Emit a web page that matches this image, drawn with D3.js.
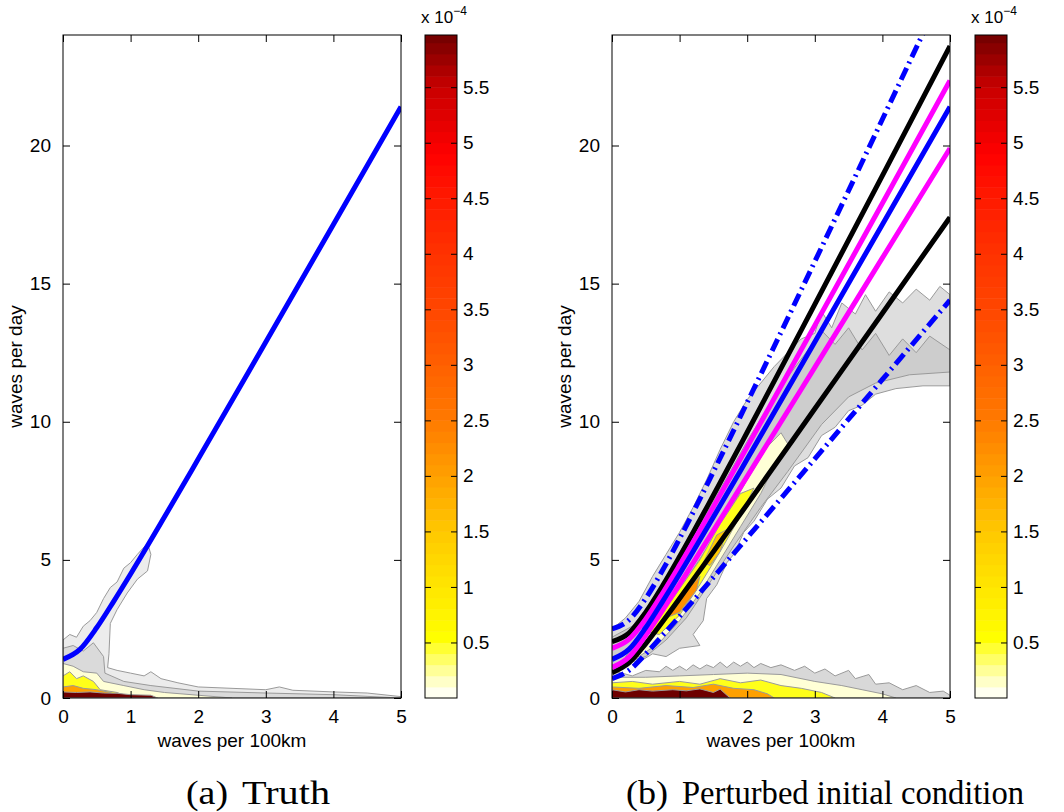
<!DOCTYPE html>
<html>
<head>
<meta charset="utf-8">
<script src="https://cdn.jsdelivr.net/npm/d3@7"></script>
<style>
  body { margin: 0; background: #fff; }
  svg text { font-family: "Liberation Sans", Arial, sans-serif; fill: #000; }
  .caption { font-family: "Liberation Serif", "DejaVu Serif", serif; }
</style>
</head>
<body>
<svg id="chart" width="1064" height="812"></svg>
<script>
// x positions shared by all curves (waves per 100km)
var kx = [0, 0.25, 0.5, 0.75, 1, 1.5, 2, 3, 4, 5];

// curves (waves per day)
var truthLine   = [1.40, 1.76, 2.55, 3.50, 4.49, 6.55, 8.65, 12.89, 17.14, 21.40];
var blackUpper  = [2.04, 2.35, 3.11, 4.07, 5.12, 7.34, 9.62, 14.25, 18.91, 23.60];
var magUpper    = [1.80, 2.12, 2.86, 3.80, 4.81, 6.92, 9.09, 13.49, 17.91, 22.35];
var magLower    = [1.10, 1.48, 2.27, 3.18, 4.12, 6.06, 8.02, 11.97, 15.93, 19.90];
var blackLower  = [0.92, 1.27, 1.97, 2.77, 3.60, 5.30, 7.01, 10.47, 13.93, 17.40];
var dashLower   = [0.70, 1.00, 1.60, 2.27, 2.96, 4.37, 5.80, 8.66, 11.53, 14.40];
var dashUpperX  = [0, 0.25, 0.5, 0.75, 1, 1.5, 2, 3, 4, 4.6];
var dashUpper   = [2.50, 2.82, 3.61, 4.63, 5.77, 8.19, 10.70, 15.80, 20.95, 24.05];

// colorbar ticks (x 10^-4) and axis ticks
var cbTicks = [0.5, 1, 1.5, 2, 2.5, 3, 3.5, 4, 4.5, 5, 5.5];
var xTicks = [0, 1, 2, 3, 4, 5];
var yTicks = [0, 5, 10, 15, 20];

// contour regions: [x, y] outlines
var truthCloud = [[0,0],[0,2.1],[0.1,2.3],[0.2,2.2],[0.3,2.6],[0.4,2.8],[0.5,3.1],[0.6,3.6],[0.7,4.0],[0.8,4.2],[0.9,4.7],[1.0,4.9],[1.1,5.2],[1.25,5.6],[1.3,5.2],[1.25,4.6],[1.1,4.3],[0.95,3.8],[0.8,3.2],[0.7,2.7],[0.68,1.6],[0.66,1.1],[0.8,1.0],[1.0,0.9],[1.2,0.8],[1.3,0.95],[1.45,0.7],[1.7,0.55],[2.0,0.4],[2.5,0.35],[3.0,0.3],[3.2,0.4],[3.4,0.28],[4.0,0.22],[4.5,0.18],[5.0,0.05],[5.0,0]];
var truthInner = [[0,0],[0,1.8],[0.15,1.9],[0.3,1.7],[0.45,2.0],[0.6,1.5],[0.62,0.9],[0.9,0.6],[1.3,0.45],[2.0,0.25],[3.0,0.18],[4.0,0.12],[5.0,0]];
var truthPale = [[0,0],[0,1.25],[0.15,1.15],[0.3,0.95],[0.5,0.9],[0.6,0.6],[0.9,0.45],[1.2,0.3],[1.5,0.2],[2.0,0.1],[2.5,0]];
var truthYellow = [[0,0],[0,0.8],[0.1,0.95],[0.2,0.7],[0.3,0.8],[0.45,0.6],[0.55,0.3],[0.8,0.2],[1.0,0]];
var truthOrange = [[0,0],[0,0.4],[0.15,0.45],[0.3,0.35],[0.5,0.3],[0.7,0.2],[0.9,0]];
var truthRed = [[0,0],[0,0.22],[0.2,0.2],[0.4,0.22],[0.6,0.18],[0.8,0.17],[1.0,0.12],[1.3,0.1],[1.4,0]];

var pertCloud = [[0,1.0],[0,2.5],[0.2,2.9],[0.4,3.5],[0.6,4.4],[0.8,5.2],[1.0,6.0],[1.2,6.9],[1.4,7.9],[1.6,9.0],[1.8,10.0],[2.0,10.8],[2.2,11.4],[2.4,12.0],[2.6,12.5],[2.8,13.0],[3.0,13.2],[3.1,14.0],[3.25,13.4],[3.4,14.3],[3.6,13.9],[3.75,14.6],[3.9,14.0],[4.1,14.7],[4.3,14.3],[4.5,14.8],[4.7,14.4],[4.85,14.9],[5.0,14.6],[5.0,11.3],[4.6,11.3],[4.2,11.2],[3.9,11.0],[3.7,10.6],[3.5,10.4],[3.3,9.8],[3.1,9.5],[2.9,8.7],[2.7,8.4],[2.5,7.6],[2.3,7.2],[2.1,6.4],[1.95,6.0],[1.8,5.2],[1.7,4.9],[1.55,4.1],[1.4,3.6],[1.35,2.8],[1.2,2.3],[1.3,1.9],[1.0,1.8],[0.8,1.5],[0.6,1.6],[0.4,1.3],[0.2,1.4]];
var pertMid = [[0,1.2],[0,2.2],[0.3,2.6],[0.6,3.5],[1.0,5.0],[1.5,7.1],[2.0,9.3],[2.5,11.3],[2.9,12.6],[3.1,13.3],[3.3,12.8],[3.5,13.4],[3.7,12.6],[3.9,13.2],[4.1,12.4],[4.3,13.0],[4.5,12.5],[4.7,13.1],[5.0,12.6],[5.0,11.8],[4.4,11.7],[3.9,11.4],[3.5,10.9],[3.1,9.9],[2.6,8.2],[2.2,6.9],[1.8,5.5],[1.4,4.0],[1.1,2.9],[0.8,2.1],[0.5,1.5],[0.2,1.3]];
var pertPale = [[0.2,1.5],[0.5,2.3],[0.8,3.2],[1.1,4.3],[1.4,5.4],[1.7,6.6],[2.0,7.9],[2.3,9.1],[2.5,9.6],[2.6,9.2],[2.4,8.4],[2.2,7.4],[1.9,6.2],[1.6,5.0],[1.3,3.8],[1.0,2.8],[0.7,2.0],[0.4,1.5]];
var pertYellow = [[0.5,2.4],[0.9,3.6],[1.3,5.0],[1.6,6.3],[1.9,7.4],[2.1,7.6],[1.9,6.6],[1.6,5.3],[1.3,4.1],[1.0,3.0],[0.7,2.3]];
var pertGold = [[1.35,4.9],[1.55,5.9],[1.7,6.1],[1.6,5.3],[1.45,4.8]];
var pertOrange = [[0.8,2.9],[1.1,3.9],[1.3,4.4],[1.25,3.9],[1.0,3.1]];
var pertLow = [[0,0],[0,1.0],[0.3,0.8],[0.5,1.0],[0.7,0.95],[0.8,1.15],[0.9,1.0],[1.0,1.15],[1.1,1.0],[1.2,1.2],[1.3,1.05],[1.4,1.2],[1.5,1.1],[1.6,1.3],[1.7,1.1],[1.8,1.3],[1.9,1.15],[2.0,1.3],[2.1,1.1],[2.2,1.25],[2.35,1.1],[2.5,1.2],[2.7,1.0],[2.85,1.15],[3.0,0.9],[3.15,1.05],[3.3,0.8],[3.5,1.0],[3.6,0.7],[3.8,0.85],[3.9,0.5],[4.1,0.55],[4.3,0.3],[4.5,0.45],[4.7,0.2],[4.9,0.25],[5.0,0.1],[5,0]];
var pertLowPale = [[0,0],[0,0.75],[0.5,0.75],[1.0,0.8],[1.5,0.85],[2.0,0.9],[2.5,0.85],[3.0,0.6],[3.4,0.45],[3.7,0.3],[4.0,0.15],[4.2,0]];
var pertLowYellow = [[0,0],[0,0.55],[0.3,0.6],[0.6,0.5],[1.0,0.6],[1.3,0.5],[1.6,0.7],[1.9,0.55],[2.2,0.65],[2.5,0.45],[2.8,0.35],[3.1,0.2],[3.3,0]];
var pertLowOrange = [[0,0],[0,0.4],[0.4,0.35],[0.8,0.45],[1.2,0.38],[1.5,0.5],[1.8,0.35],[2.1,0.3],[2.3,0.15],[2.4,0]];
var pertLowRed = [[0,0],[0,0.3],[0.2,0.22],[0.4,0.3],[0.6,0.25],[0.9,0.3],[1.1,0.26],[1.3,0.33],[1.5,0.2],[1.6,0.32],[1.7,0.1],[1.75,0]];

// reversed "hot" style colour map, domain in 10^-4
var hot = d3.scaleLinear()
  .domain([0, 0.1, 0.3, 0.55, 1.0, 1.5, 2.0, 2.5, 3.0, 3.5, 4.0, 4.5, 4.9, 5.5, 6.0])
  .range(["#ffffff", "#ffffe0", "#ffff80", "#ffff00", "#ffe600", "#ffc800", "#ffa000",
          "#ff7a00", "#ff6000", "#ff4600", "#ff3200", "#ff1a00", "#ff0000", "#c80000", "#6e0000"])
  .clamp(true);

var svg = d3.select("#chart");
var W = 338, H = 663;
var x = d3.scaleLinear().domain([0, 5]).range([0, W]);
var y = d3.scaleLinear().domain([0, 24]).range([H, 0]);
var line = d3.line().x(function(d){ return x(d[0]); }).y(function(d){ return y(d[1]); }).curve(d3.curveMonotoneX);
var poly = d3.line().x(function(d){ return x(d[0]); }).y(function(d){ return y(d[1]); }).curve(d3.curveLinearClosed);

function zip(xs, ys){ return xs.map(function(v, i){ return [v, ys[i]]; }); }

function drawPanel(left, id, regions, curves, caption){
  var g = svg.append("g").attr("transform", "translate(" + left + ",35)");
  g.append("clipPath").attr("id", id).append("rect").attr("width", W).attr("height", H);
  var plot = g.append("g").attr("clip-path", "url(#" + id + ")");

  regions.forEach(function(r){
    plot.append("path").attr("d", poly(r.pts))
      .attr("fill", r.fill || hot(r.level))
      .attr("stroke", "#9a9a9a").attr("stroke-width", 1);
  });

  curves.forEach(function(c){
    plot.append("path").attr("d", line(c.pts))
      .attr("fill", "none").attr("stroke", c.color).attr("stroke-width", 5)
      .attr("stroke-dasharray", c.dash || null);
  });

  // box with inward ticks on all four sides
  g.append("rect").attr("width", W).attr("height", H).attr("fill", "none").attr("stroke", "#000");
  g.append("g").attr("transform", "translate(0," + H + ")")
    .call(d3.axisBottom(x).tickValues(xTicks).tickFormat(d3.format("d")).tickSizeInner(-7).tickSizeOuter(0).tickPadding(12))
    .call(styleAxis);
  g.append("g").call(d3.axisTop(x).tickValues(xTicks).tickSizeInner(-7).tickSizeOuter(0).tickFormat(""))
    .call(styleAxis);
  g.append("g").call(d3.axisLeft(y).tickValues(yTicks).tickSizeInner(-7).tickSizeOuter(0).tickPadding(12))
    .call(styleAxis);
  g.append("g").attr("transform", "translate(" + W + ",0)")
    .call(d3.axisRight(y).tickValues(yTicks).tickSizeInner(-7).tickSizeOuter(0).tickFormat(""))
    .call(styleAxis);

  g.append("text").attr("x", W / 2).attr("y", H + 49).attr("text-anchor", "middle")
    .style("font-size", "19px").text("waves per 100km");
  g.append("text").attr("transform", "translate(-41," + (H / 2) + ") rotate(-90)")
    .attr("text-anchor", "middle").style("font-size", "19px").text("waves per day");

  // caption pieces: [text, left x, width]
  caption.forEach(function(c){
    svg.append("text").attr("class", "caption").attr("x", c[1]).attr("y", 804)
      .attr("textLength", c[2]).attr("lengthAdjust", "spacingAndGlyphs")
      .style("font-size", "33px").text(c[0]);
  });
}

function styleAxis(a){
  a.select(".domain").remove();
  a.selectAll(".tick line").attr("stroke", "#000");
  a.selectAll("text").style("font-size", "19px").attr("fill", "#000");
}

function drawColorbar(left){
  var cw = 32;
  var cy = d3.scaleLinear().domain([0, 5.97]).range([H, 0]);
  var g = svg.append("g").attr("transform", "translate(" + left + ",35)");
  var bands = d3.range(0, 5.97, 0.1);
  g.selectAll("rect.band").data(bands).enter().append("rect")
    .attr("x", 0).attr("width", cw)
    .attr("y", function(d){ return cy(Math.min(d + 0.1, 5.97)); })
    .attr("height", function(d){ return cy(d) - cy(Math.min(d + 0.1, 5.97)) + 0.5; })
    .attr("fill", function(d){ return hot(d + 0.05); });
  g.append("rect").attr("width", cw).attr("height", H).attr("fill", "none").attr("stroke", "#000");
  g.append("g").attr("transform", "translate(" + cw + ",0)")
    .call(d3.axisRight(cy).tickValues(cbTicks).tickSizeInner(-6).tickSizeOuter(0).tickPadding(6)
      .tickFormat(function(d){ return String(d); }))
    .call(styleAxis);
  g.append("g")
    .call(d3.axisLeft(cy).tickValues(cbTicks).tickSizeInner(-6).tickSizeOuter(0).tickFormat(""))
    .call(styleAxis);
  var t = g.append("text").attr("x", -4).attr("y", -12).style("font-size", "17px");
  t.append("tspan").text("x 10");
  t.append("tspan").attr("dy", -8).style("font-size", "12px").text("\u22124");
}

drawPanel(63, "clipA", [
  { pts: truthCloud, fill: "#ececec" },
  { pts: truthInner, fill: "#dadada" },
  { pts: truthPale, level: 0.12 },
  { pts: truthYellow, level: 0.5 },
  { pts: truthOrange, level: 2.0 },
  { pts: truthRed, level: 6.0 }
], [
  { pts: zip(kx, truthLine), color: "#0000ff" }
], [["(a)", 186, 42], ["Truth", 242, 88]]);

drawPanel(612, "clipB", [
  { pts: pertCloud, fill: "#dedede" },
  { pts: pertMid, fill: "#cdcdcd" },
  { pts: pertPale, level: 0.12 },
  { pts: pertYellow, level: 0.5 },
  { pts: pertGold, level: 1.5 },
  { pts: pertOrange, level: 2.2 },
  { pts: pertLow, fill: "#d8d8d8" },
  { pts: pertLowPale, level: 0.12 },
  { pts: pertLowYellow, level: 0.5 },
  { pts: pertLowOrange, level: 2.0 },
  { pts: pertLowRed, level: 6.0 }
], [
  { pts: zip(dashUpperX, dashUpper), color: "#0000ff", dash: "13 5 2 5" },
  { pts: zip(kx, dashLower), color: "#0000ff", dash: "13 5 2 5" },
  { pts: zip(kx, blackUpper), color: "#000000" },
  { pts: zip(kx, blackLower), color: "#000000" },
  { pts: zip(kx, magUpper), color: "#ff00ff" },
  { pts: zip(kx, magLower), color: "#ff00ff" },
  { pts: zip(kx, truthLine), color: "#0000ff" }
], [["(b)", 626, 42], ["Perturbed initial condition", 682, 342]]);

drawColorbar(425);
drawColorbar(975);
</script>
</body>
</html>
